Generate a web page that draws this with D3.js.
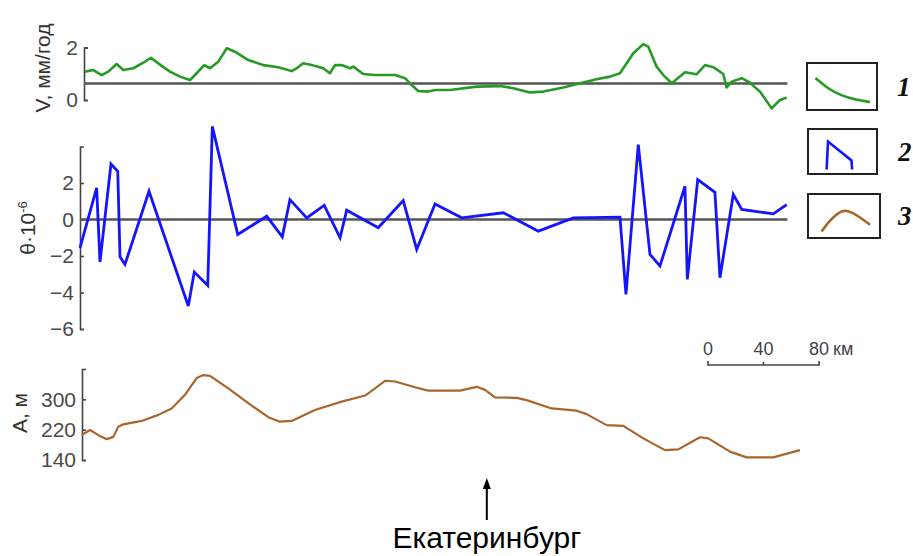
<!DOCTYPE html>
<html>
<head>
<meta charset="utf-8">
<script src="https://cdn.jsdelivr.net/npm/d3@7"></script>
<style>
  body { margin: 0; background: #fff; }
  svg { display: block; font-family: "Liberation Sans", Arial, sans-serif; }
</style>
</head>
<body>
<svg width="913" height="556"></svg>
<script>
// profile distance, km
var distV = [3.6, 9.6, 15.6, 20.4, 26.4, 31.2, 38.4, 45.6, 51.1, 58.8, 64.8, 72.0, 79.2, 84.0, 89.5, 93.6, 99.6, 105.7, 111.6, 121.2,
  132.0, 142.8, 152.5, 156.1, 160.8, 166.9, 175.2, 180.0, 183.7, 188.5, 194.5, 196.8, 204.0, 212.5, 226.9, 234.1, 238.9, 243.6, 250.8, 255.7,
  266.5, 285.7, 302.5, 312.1, 324.1, 333.7, 348.1, 360.1, 372.1, 381.7, 388.9, 398.5, 405.7, 409.3, 415.3, 420.1, 426.2, 435.7, 444.1, 450.1,
  456.1, 463.3, 465.7, 469.4, 476.6, 482.5, 489.7, 498.2, 504.1, 509.0];
// 1 - V, mm/year
var valV = [1.08, 1.14, 0.95, 1.08, 1.37, 1.14, 1.21, 1.42, 1.61, 1.30, 1.08, 0.89, 0.76, 1.02, 1.33, 1.21, 1.46, 1.97, 1.84, 1.52,
  1.33, 1.25, 1.10, 1.21, 1.40, 1.33, 1.21, 1.02, 1.33, 1.33, 1.21, 1.27, 0.99, 0.95, 0.95, 0.83, 0.57, 0.34, 0.32, 0.38,
  0.38, 0.51, 0.53, 0.45, 0.29, 0.32, 0.48, 0.64, 0.79, 0.89, 1.02, 1.78, 2.13, 2.03, 1.27, 0.95, 0.64, 1.06, 0.98, 1.33,
  1.25, 0.99, 0.48, 0.70, 0.83, 0.66, 0.32, -0.32, 0.00, 0.09];
var vLevel = 0.63;

var distTheta = [0, 12.0, 14.4, 22.3, 27.2, 28.8, 32.4, 49.7, 78.0, 82.3, 92.0, 95.3, 113.6, 134.5, 145.7, 151.2, 163.3, 175.9, 187.3, 192.1,
  214.8, 232.8, 242.5, 255.7, 274.9, 304.9, 330.1, 355.3, 388.9, 393.2, 402.1, 410.5, 417.7, 435.7, 437.4, 444.9, 457.3, 460.9, 470.5, 476.6,
  499.3, 509.0];
// 2 - theta * 10^-6
var valTheta = [-1.55, 1.73, -2.33, 3.04, 2.64, -2.04, -2.46, 1.55, -4.74, -2.88, -3.61, 5.10, -0.82, 0.18, -0.95, 1.09, 0.09, 0.77, -1.00, 0.51,
  -0.45, 1.04, -1.64, 0.85, 0.09, 0.37, -0.64, 0.09, 0.13, -4.10, 4.10, -1.91, -2.55, 1.82, -3.28, 2.19, 1.49, -3.19, 1.37, 0.55,
  0.31, 0.82];

var distA = [1.2, 7.2, 14.4, 19.2, 24.0, 27.6, 31.2, 44.4, 56.4, 66.0, 75.6, 84.0, 88.8, 93.6, 106.8, 121.2, 135.6, 144.0, 152.5, 169.2,
  188.5, 205.3, 212.5, 219.7, 226.9, 241.3, 250.8, 262.9, 273.7, 285.7, 291.7, 298.9, 314.5, 321.7, 339.7, 357.7, 364.9, 379.3, 391.3, 405.7,
  421.3, 430.9, 446.5, 452.5, 468.1, 480.1, 499.3, 518.5];
// 3 - A, m
var valA = [206, 219, 203, 195, 201, 228, 234, 243, 259, 276, 312, 356, 364, 362, 329, 290, 253, 241, 243, 272,
  294, 310, 329, 349, 347, 332, 323, 323, 323, 333, 325, 305, 304, 298, 276, 270, 261, 232, 230, 197,
  166, 168, 200, 197, 162, 147, 147, 166];

var vTicks = [0, 2];
var thetaTicks = [-6, -4, -2, 0, 2];
var aTicks = [140, 220, 300];
var scaleTicks = [0, 40, 80];
var cityKm = 293;

var svg = d3.select("svg");

var xScale = d3.scaleLinear().domain([0, 520]).range([80, 802]);
var lineEnd = 509.5;

var yV = d3.scaleLinear().domain([0, 2]).range([100, 47.5]);
var yTheta = d3.scaleLinear().domain([-6, 4]).range([329, 146.5]);
var yA = d3.scaleLinear().domain([140, 380]).range([460, 369]);

function styleAxis(g) {
  g.selectAll("path, line").attr("stroke", "#444").attr("stroke-width", 1.6);
  g.selectAll("text").attr("fill", "#4a4a4a").attr("font-size", 21)
    .attr("font-family", "Liberation Sans, Arial, sans-serif");
}

// axes, bracket style
svg.append("g").attr("transform", "translate(84,0)")
  .call(d3.axisLeft(yV).tickValues(vTicks).tickFormat(d3.format("d"))
    .tickSizeInner(-4).tickSizeOuter(-4).tickPadding(6))
  .call(styleAxis);
svg.append("g").attr("transform", "translate(80,0)")
  .call(d3.axisLeft(yTheta).tickValues(thetaTicks).tickSizeInner(-4).tickSizeOuter(-4).tickPadding(6))
  .call(styleAxis);
svg.append("g").attr("transform", "translate(82,0)")
  .call(d3.axisLeft(yA).tickValues(aTicks).tickSizeInner(-4).tickSizeOuter(-4).tickPadding(6))
  .call(styleAxis);

// reference lines
svg.append("line")
  .attr("x1", 84).attr("x2", xScale(lineEnd))
  .attr("y1", yV(vLevel)).attr("y2", yV(vLevel))
  .attr("stroke", "#555").attr("stroke-width", 2.5);
svg.append("line")
  .attr("x1", 80).attr("x2", xScale(lineEnd))
  .attr("y1", yTheta(0)).attr("y2", yTheta(0))
  .attr("stroke", "#555").attr("stroke-width", 2.5);

// series
var lineV = d3.line().x(function(d, i) { return xScale(distV[i]); }).y(function(d) { return yV(d); });
var lineT = d3.line().x(function(d, i) { return xScale(distTheta[i]); }).y(function(d) { return yTheta(d); });
var lineA = d3.line().x(function(d, i) { return xScale(distA[i]); }).y(function(d) { return yA(d); });

svg.append("path").attr("d", lineV(valV))
  .attr("fill", "none").attr("stroke", "#259a25").attr("stroke-width", 2.6).attr("stroke-linejoin", "round");
svg.append("path").attr("d", lineT(valTheta))
  .attr("fill", "none").attr("stroke", "#1414ff").attr("stroke-width", 2.8).attr("stroke-linejoin", "miter");
svg.append("path").attr("d", lineA(valA))
  .attr("fill", "none").attr("stroke", "#a8652c").attr("stroke-width", 2.2).attr("stroke-linejoin", "round");

// axis titles
svg.append("text").attr("transform", "translate(50,68) rotate(-90)")
  .attr("text-anchor", "middle").attr("font-size", 21).attr("fill", "#333")
  .text("V, мм/год");

var tt = svg.append("text").attr("transform", "translate(35,228) rotate(-90)")
  .attr("text-anchor", "middle").attr("font-size", 21).attr("fill", "#333");
tt.append("tspan").text("θ·10");
tt.append("tspan").attr("font-size", 13).attr("dy", -8).text("-6");

svg.append("text").attr("transform", "translate(27,413) rotate(-90)")
  .attr("text-anchor", "middle").attr("font-size", 21).attr("fill", "#333")
  .text("A, м");

// legend
var legendNames = ["1", "2", "3"];
var legendColors = ["#259a25", "#1414ff", "#a8652c"];
var legendBoxes = [[807, 63, 70, 47], [808, 129, 69, 45], [808, 194, 72, 44]];
var legendShapes = [
  [[0.12, 0.32], [0.3, 0.55], [0.5, 0.7], [0.7, 0.78], [0.9, 0.83]],
  [[0.27, 0.9], [0.29, 0.28], [0.63, 0.7], [0.64, 0.9]],
  [[0.19, 0.85], [0.3, 0.6], [0.45, 0.38], [0.55, 0.37], [0.7, 0.5], [0.86, 0.7]]
];
legendBoxes.forEach(function(b, i) {
  var g = svg.append("g").attr("transform", "translate(" + b[0] + "," + b[1] + ")");
  g.append("rect").attr("width", b[2]).attr("height", b[3])
    .attr("fill", "#fff").attr("stroke", "#222").attr("stroke-width", 2);
  var lx = d3.scaleLinear().range([0, b[2]]);
  var ly = d3.scaleLinear().range([0, b[3]]);
  g.append("path")
    .attr("d", d3.line().curve(i == 1 ? d3.curveLinear : d3.curveBasis)
      .x(function(d) { return lx(d[0]); }).y(function(d) { return ly(d[1]); })(legendShapes[i]))
    .attr("fill", "none").attr("stroke", legendColors[i]).attr("stroke-width", 2.6);
  svg.append("text").attr("x", b[0] + 90).attr("y", b[1] + b[3] / 2 + 9)
    .attr("font-family", "Liberation Serif, Times New Roman, serif")
    .attr("font-style", "italic").attr("font-weight", "bold").attr("font-size", 27)
    .attr("fill", "#111").text(legendNames[i]);
});

// scale bar
var sb = svg.append("g").attr("transform", "translate(708,0)");
var sbScale = d3.scaleLinear().domain([0, 80]).range([0, xScale(80) - xScale(0)]);
sb.append("path")
  .attr("d", "M0,361V365H" + sbScale(80) + "V361")
  .attr("fill", "none").attr("stroke", "#444").attr("stroke-width", 1.6);
sb.selectAll(".sbt").data(scaleTicks.slice(1, 2)).enter().append("line")
  .attr("x1", function(d) { return sbScale(d); }).attr("x2", function(d) { return sbScale(d); })
  .attr("y1", 362).attr("y2", 365).attr("stroke", "#444").attr("stroke-width", 1.6);
sb.selectAll(".sbl").data(scaleTicks).enter().append("text")
  .attr("x", function(d) { return sbScale(d); }).attr("y", 355)
  .attr("text-anchor", "middle").attr("font-size", 18).attr("fill", "#444")
  .text(function(d) { return d; });
sb.append("text").attr("x", sbScale(80) + 14).attr("y", 355)
  .attr("font-size", 18).attr("fill", "#444").text("км");

// city marker
var cx = xScale(cityKm);
svg.append("line").attr("x1", cx).attr("x2", cx).attr("y1", 486).attr("y2", 520)
  .attr("stroke", "#000").attr("stroke-width", 2);
svg.append("path").attr("d", "M" + (cx - 4) + ",489L" + cx + ",478L" + (cx + 4) + ",489Z").attr("fill", "#000");
svg.append("text").attr("x", cx).attr("y", 548).attr("text-anchor", "middle")
  .attr("font-size", 30).attr("fill", "#000").text("Екатеринбург");
</script>
</body>
</html>
